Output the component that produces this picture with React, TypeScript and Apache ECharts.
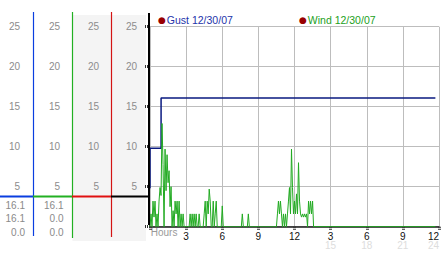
import React, { useEffect, useRef } from 'react';
import * as echarts from 'echarts';

// ---- data ----
const seriesNames = ['Gust 12/30/07', 'Wind 12/30/07'];
const gustHours = [0, 0, 0.92, 23.7];
const gustValues = [4.8, 9.8, 16.1, 16.1];
const windStepHours = 5 / 60;
const windValues = [
  0, 1.6, 0, 3.2, 1.2, 3.2, 0, 1.6, 0, 3.2,
  4.9, 3.9, 12.9, 7.8, 0, 9.7, 4.5, 9.0, 5.5, 7.0,
  2.5, 5.0, 0, 2.0, 0, 3.2, 1.6, 3.2, 0, 3.2,
  0, 1.6, 0, 1.6, 0, 0, 0, 0, 0, 0,
  1.6, 0, 1.6, 0, 1.6, 0, 1.6, 0, 0, 1.6,
  0, 0, 0, 0, 1.6, 3.2, 0, 3.2, 1.6, 4.7,
  3.2, 0, 0, 3.2, 0, 1.6, 3.2, 0, 0, 0,
  0, 0, 2.6, 0, 0, 0, 0, 0, 0, 0,
  0, 0, 0, 0, 0, 0, 0, 0, 0, 0,
  0, 0, 1.6, 0, 0, 0, 0, 0, 1.6, 0,
  0, 0, 0, 0, 0, 0, 0, 0, 0, 0,
  0, 0, 0, 0, 0, 0, 0, 0, 0, 0,
  0, 0, 0, 0, 0, 0, 0, 1.6, 3.2, 1.6,
  3.2, 1.6, 0, 1.6, 0, 1.6, 0, 1.6, 3.2, 4.9,
  1.6, 9.7, 4.9, 1.6, 3.2, 1.6, 4.1, 1.6, 8.0, 3.2,
  1.6, 1.2, 1.6, 1.2, 1.6, 1.2, 1.6, 0, 3.2, 1.6,
  3.2, 1.6, 3.2, 0,
];
const windEndHour = 23.7;
const clockLabels = ['', '3', '6', '9', '12', '3', '6', '9', '12'];
const dayLabels = ['', '', '', '', '', '15', '18', '21', '24'];
const gustReadout = ['16.1', '16.1', '0.0'];
const windReadout = ['16.1', '0.0', '0.0'];

const FONT = '"Liberation Sans", Arial, sans-serif';

export default function App() {
  const ref = useRef<HTMLDivElement>(null);
  useEffect(() => {
    if (!ref.current) return;
    const chart = echarts.init(ref.current, null, { renderer: 'svg' });

    const gustData = gustHours.map((h, i) => [h, gustValues[i]]);
    const windData: number[][] = windValues.map((v, i) => [i * windStepHours, v]);
    windData.push([windEndHour, 0]);

    const yBase: any = {
      type: 'value', min: 0, max: 25, interval: 5, position: 'left',
      axisLine: { show: false }, axisTick: { show: false }, splitLine: { show: false },
    };
    const colLabel = (margin: number) => ({
      margin,
      color: '#8c8c8c', fontSize: 10, fontFamily: FONT,
      formatter: (v: number) => (v === 0 ? '' : String(v)),
    });

    const readoutTexts: any[] = [];
    const rowsY = [205, 218.5, 232];
    gustReadout.forEach((t, i) => readoutTexts.push({
      type: 'text', x: 25, y: rowsY[i],
      style: { text: t, fill: '#8a8a8a', font: `10px ${FONT}`, textAlign: 'right', textVerticalAlign: 'middle' },
    }));
    windReadout.forEach((t, i) => readoutTexts.push({
      type: 'text', x: 63.5, y: rowsY[i],
      style: { text: t, fill: '#8a8a8a', font: `10px ${FONT}`, textAlign: 'right', textVerticalAlign: 'middle' },
    }));

    const vline = (x: number, y1: number, y2: number, c: string, w = 1.2) => ({
      type: 'line', z: 50, shape: { x1: x, y1, x2: x, y2 }, style: { stroke: c, lineWidth: w },
    });
    const hline = (x1: number, x2: number, y: number, c: string) => ({
      type: 'line', z: 50, shape: { x1, y1: y, x2, y2: y }, style: { stroke: c, lineWidth: 2 },
    });

    const legendRich = {
      d: { color: '#990000', fontSize: 9, fontFamily: '"DejaVu Sans", sans-serif', padding: [0, 1, 0, 0] },
      g: { color: '#2233aa', fontSize: 10.5, fontFamily: FONT },
      w: { color: '#22a022', fontSize: 10.5, fontFamily: FONT },
    };
    const legendBase = (left: number, name: string, key: string) => ({
      left, top: 14, padding: 0, itemWidth: 0, itemHeight: 0, icon: 'circle',
      data: [name],
      formatter: (n: string) => `{d|●}{${key}|${n}}`,
      textStyle: { rich: legendRich },
    });

    chart.setOption({
      animation: false,
      backgroundColor: '#ffffff',
      grid: { left: 150, top: 26.7, width: 289, height: 200, containLabel: false },
      legend: [
        legendBase(153, seriesNames[0], 'g'),
        legendBase(294, seriesNames[1], 'w'),
      ],
      xAxis: {
        type: 'value', min: 0, max: 24, interval: 3,
        name: 'Hours', nameLocation: 'start', nameGap: -30,
        nameTextStyle: { color: '#9a9a9a', fontSize: 10, fontFamily: FONT, verticalAlign: 'top', padding: [1, 0, 0, 0] },
        axisLine: { show: true, onZero: false, lineStyle: { color: '#1a1a1a', width: 1.5 } },
        axisTick: { show: true, length: 4, lineStyle: { color: '#333', width: 3, type: [1, 1] } },
        splitLine: { show: true, lineStyle: { color: '#bdbdbd', width: 1 } },
        axisLabel: {
          margin: 5,
          alignMaxLabel: 'right',
          formatter: (v: number) => {
            const idx = Math.round(v / 3);
            if (idx === 0) return '';
            return `{a|${clockLabels[idx]}}\n{b|${dayLabels[idx] || ' '}}`;
          },
          rich: {
            a: { fontSize: 10, lineHeight: 9, color: '#111', fontFamily: FONT },
            b: { fontSize: 10, lineHeight: 10, color: '#dddddd', fontFamily: FONT },
          },
        },
      },
      yAxis: [
        {
          ...yBase, offset: 0,
          splitLine: { show: true, lineStyle: { color: '#bdbdbd', width: 1 } },
          axisTick: { show: true, length: 6, lineStyle: { color: '#333', width: 3, type: [1, 1] } },
          axisLabel: colLabel(13),
        },
        { ...yBase, offset: 39, axisLabel: colLabel(12) },
        { ...yBase, offset: 78, axisLabel: colLabel(12) },
        { ...yBase, offset: 117, axisLabel: colLabel(13) },
      ],
      graphic: [
        { type: 'rect', z: -100, silent: true, shape: { x: 72.5, y: 15, width: 73.5, height: 226 }, style: { fill: '#f4f4f4' } },
        vline(33.5, 12, 236, '#0a3ee0'),
        vline(72.5, 12, 238, '#22b022'),
        vline(111.5, 12, 237, '#d41414'),
        vline(149, 13, 225, '#000000', 2),
        hline(0, 33, 196.5, '#0a3ee0'),
        hline(33, 72, 196.5, '#22b022'),
        hline(72, 111, 196.5, '#e01010'),
        hline(111, 149, 196.5, '#000000'),
        ...readoutTexts,
      ],
      series: [
        {
          name: seriesNames[0], type: 'line', step: 'end', showSymbol: false,
          data: gustData, lineStyle: { color: '#0a1a80', width: 1.5 }, itemStyle: { color: '#0a1a80' }, z: 3,
        },
        {
          name: seriesNames[1], type: 'line', showSymbol: false,
          data: windData, lineStyle: { color: '#22aa22', width: 1 }, itemStyle: { color: '#22aa22' }, z: 4,
        },
      ],
    });
    return () => chart.dispose();
  }, []);
  return <div ref={ref} style={{ position: 'fixed', left: 0, top: 0, width: 442, height: 253, background: '#fff' }} />;
}
